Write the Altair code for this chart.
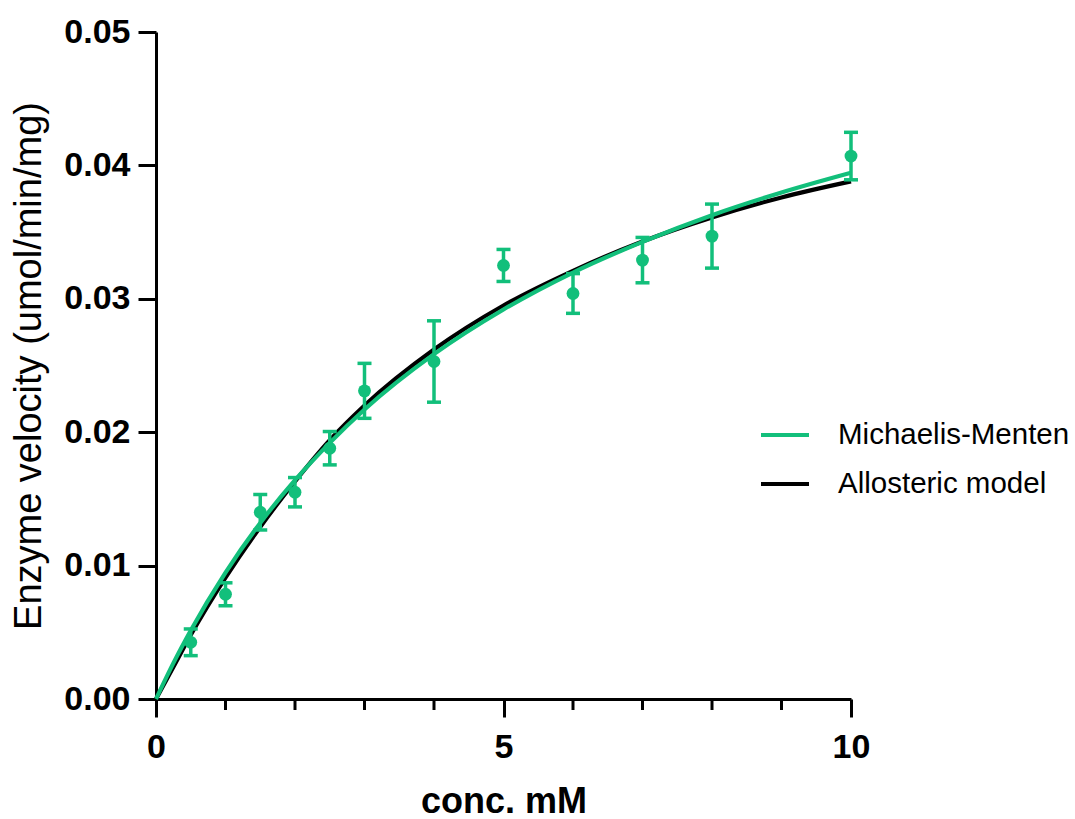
import altair as alt
import pandas as pd

# Measured data points
conc = [0.5, 1, 1.5, 2, 2.5, 3, 4, 5, 6, 7, 8, 10]
velocity = [0.00425, 0.00785, 0.0140, 0.0155, 0.0188, 0.0231, 0.0253, 0.0325, 0.0304, 0.0329, 0.0347, 0.0407]
sem = [0.0010, 0.00086, 0.00133, 0.0011, 0.00125, 0.00206, 0.00305, 0.0012, 0.00149, 0.0017, 0.0024, 0.00178]

# Fitted curves
curve_x = [0, 0.25, 0.5, 1, 1.5, 2, 2.5, 3, 4, 5, 6, 7, 8, 9, 10]
mm_y = [0, 0.00269, 0.00514, 0.00948, 0.0132, 0.0164, 0.0192, 0.0217, 0.02585, 0.0292, 0.03197, 0.03427, 0.03627, 0.03797, 0.03945]
allo_y = [0, 0.0024, 0.0048, 0.0091, 0.0129, 0.0163, 0.0194, 0.0220, 0.0262, 0.0295, 0.0321, 0.0343, 0.0361, 0.0376, 0.0388]

models = ["Michaelis-Menten", "Allosteric model"]
model_colors = ["#12bf7b", "#000000"]

x_ticks = [0, 5, 10]
x_minor = [1, 2, 3, 4, 6, 7, 8, 9]
y_ticks = [0, 0.01, 0.02, 0.03, 0.04, 0.05]

GREEN = "#12bf7b"
FONT = "Liberation Sans"
W, H = 695, 667

pts = pd.DataFrame({
    "conc": conc,
    "v": velocity,
    "lo": [v - e for v, e in zip(velocity, sem)],
    "hi": [v + e for v, e in zip(velocity, sem)],
})
mm_df = pd.DataFrame({"conc": curve_x, "v": mm_y, "model": models[0]})
al_df = pd.DataFrame({"conc": curve_x, "v": allo_y, "model": models[1]})
minor_df = pd.DataFrame({"conc": x_minor})

xscale = alt.Scale(domain=[0, 10], nice=False, zero=False)
yscale = alt.Scale(domain=[0, 0.05], nice=False)

x_axis = alt.Axis(
    values=x_ticks, format="d", tickSize=18, labelPadding=13, labelFlush=False,
    title="conc. mM", titleFontSize=36, titleFontWeight="bold", titlePadding=20,
)
y_axis = alt.Axis(
    values=y_ticks, format=".2f", tickSize=18, labelPadding=8, labelFlush=False,
    title="Enzyme velocity (umol/min/mg)", titleFontSize=38,
    titleFontWeight="normal", titlePadding=15,
)

color = alt.Color(
    "model:N",
    scale=alt.Scale(domain=models, range=model_colors),
    legend=alt.Legend(
        title=None, orient="none", legendX=603, legendY=377,
        symbolType="stroke", symbolSize=2304, symbolStrokeWidth=4,
        labelFontSize=29.5, labelFont=FONT, labelColor="black", labelLimit=500,
        labelOffset=27, rowPadding=8, padding=0,
    ),
)

base_x = alt.X("conc:Q", scale=xscale, axis=x_axis)
base_y = alt.Y("v:Q", scale=yscale, axis=y_axis)

black_line = alt.Chart(al_df).mark_line(strokeWidth=4.2, interpolate="monotone").encode(
    x=base_x, y=base_y, color=color
)
green_line = alt.Chart(mm_df).mark_line(strokeWidth=4.2, interpolate="monotone").encode(
    x=alt.X("conc:Q", scale=xscale), y=alt.Y("v:Q", scale=yscale), color=color
)
err = alt.Chart(pts).mark_rule(color=GREEN, strokeWidth=3.5, opacity=1).encode(
    x=alt.X("conc:Q", scale=xscale), y=alt.Y("lo:Q", scale=yscale), y2="hi:Q"
)
cap_lo = alt.Chart(pts).mark_tick(color=GREEN, orient="horizontal", size=14, thickness=3.5, opacity=1).encode(
    x=alt.X("conc:Q", scale=xscale), y=alt.Y("lo:Q", scale=yscale)
)
cap_hi = alt.Chart(pts).mark_tick(color=GREEN, orient="horizontal", size=14, thickness=3.5, opacity=1).encode(
    x=alt.X("conc:Q", scale=xscale), y=alt.Y("hi:Q", scale=yscale)
)
dots = alt.Chart(pts).mark_circle(color=GREEN, size=165, opacity=1).encode(
    x=alt.X("conc:Q", scale=xscale), y=alt.Y("v:Q", scale=yscale)
)
minor = alt.Chart(minor_df).mark_rule(color="black", strokeWidth=3).encode(
    x=alt.X("conc:Q", scale=xscale), y=alt.value(H), y2=alt.value(H + 11)
)

chart = alt.layer(black_line, green_line, err, cap_lo, cap_hi, dots, minor).properties(
    width=W, height=H,
    autosize=alt.AutoSizeParams(type="none"),
    padding={"left": 156, "top": 32, "right": 1075 - 156 - W, "bottom": 819 - 32 - H},
).configure_view(stroke=None).configure_axis(
    grid=False, domainColor="black", domainWidth=3, tickColor="black", tickWidth=3,
    labelFont=FONT, labelFontSize=34, labelFontWeight="bold", labelColor="black",
    titleFont=FONT, titleColor="black",
)

chart.save("out.html", embed_options={"renderer": "svg", "actions": False})
